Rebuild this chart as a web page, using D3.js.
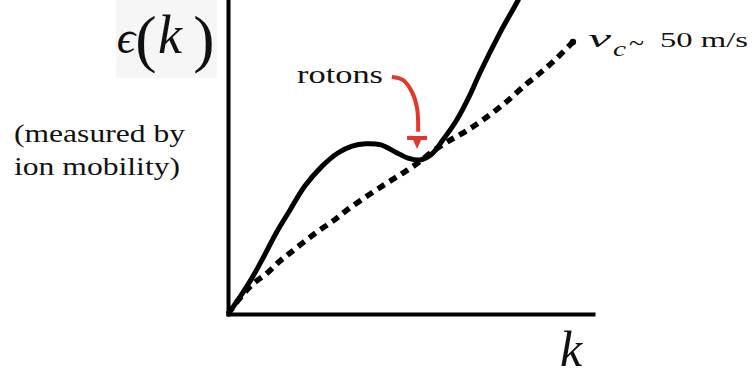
<!DOCTYPE html>
<html>
<head>
<meta charset="utf-8">
<script src="https://cdn.jsdelivr.net/npm/d3@7"></script>
<style>
  html, body { margin: 0; padding: 0; background: #fff; overflow: hidden; }
  text { font-family: "Liberation Serif", Tinos, "Nimbus Roman", "Times New Roman", Times, serif; fill: #111; }
</style>
</head>
<body>
<svg id="chart" width="753" height="370"></svg>
<script>
// Excitation spectrum of superfluid helium (arbitrary units)
const dispersionK = [0, 0.33, 0.66, 0.99, 1.32, 1.70, 2.11, 2.58, 3.01, 3.40, 3.78, 4.19, 4.58, 4.93, 5.26, 5.56, 5.89, 6.27, 6.63, 6.90, 7.45, 7.95, 8.11];
const dispersionE = [0, 0.47, 0.99, 1.59, 2.22, 2.85, 3.51, 4.05, 4.41, 4.60, 4.66, 4.63, 4.44, 4.27, 4.22, 4.36, 4.77, 5.32, 6.00, 6.60, 7.70, 8.60, 8.93];

// Landau critical-velocity line, v_c ~ 50 m/s
const criticalK = [0, 0.33, 0.68, 1.07, 1.42, 1.70, 2.05, 2.44, 2.88, 3.26, 3.81, 4.36, 4.79, 5.21, 5.59, 6.00, 6.49, 6.99, 7.59, 8.14, 8.55, 9.01, 9.45];
const criticalE = [0, 0.44, 0.82, 1.12, 1.45, 1.67, 1.95, 2.25, 2.55, 2.85, 3.23, 3.59, 3.86, 4.14, 4.44, 4.71, 4.99, 5.32, 5.78, 6.27, 6.60, 7.01, 7.45];

// Annotation arrow pointing at the roton minimum
const rotonArrowK = [4.49, 4.79, 5.04, 5.18, 5.21];
const rotonArrowE = [6.49, 6.41, 6.08, 5.64, 4.99];
const rotonTip = [5.18, 4.52];

const kDomain = [0, 10];
const eDomain = [0, 8.6];

const svg = d3.select("#chart");

const x = d3.scaleLinear().domain(kDomain).range([228, 593]);
const y = d3.scaleLinear().domain(eDomain).range([314, 0]);

// faint backdrop behind the ordinate label
svg.append("rect").attr("x", 116).attr("y", 0).attr("width", 101).attr("height", 78)
  .attr("fill", "#f6f6f6");

// axes: bare lines, no ticks
const yAxis = svg.append("g").attr("transform", `translate(${x(0)},0)`)
  .call(d3.axisLeft(y).tickValues([]).tickSizeOuter(0));
const xAxis = svg.append("g").attr("transform", `translate(0,${y(0)})`)
  .call(d3.axisBottom(x).tickValues([]).tickSizeOuter(0));
[yAxis, xAxis].forEach(g => g.select(".domain")
  .attr("stroke", "#000").attr("stroke-width", 4).attr("stroke-linecap", "square"));

const line = d3.line().x(d => x(d[0])).y(d => y(d[1])).curve(d3.curveCatmullRom.alpha(0.5));

const critical = d3.zip(criticalK, criticalE);
svg.append("path").datum(critical).attr("d", line)
  .attr("fill", "none").attr("stroke", "#000").attr("stroke-width", 5.5)
  .attr("stroke-dasharray", "8,6");

// end dot of the dashed line
const last = critical[critical.length - 1];
svg.append("circle").attr("cx", x(last[0])).attr("cy", y(last[1])).attr("r", 3.2).attr("fill", "#000");

const dispersion = d3.zip(dispersionK, dispersionE);
svg.append("path").datum(dispersion).attr("d", line)
  .attr("fill", "none").attr("stroke", "#000").attr("stroke-width", 5)
  .attr("stroke-linejoin", "round");

// roton arrow
const red = "#e2372c";
svg.append("path").datum(d3.zip(rotonArrowK, rotonArrowE)).attr("d", line)
  .attr("fill", "none").attr("stroke", red).attr("stroke-width", 4);
const tx = x(rotonTip[0]), ty = y(rotonTip[1]);
svg.append("path")
  .attr("d", `M${tx - 10},${ty - 13}L${tx + 10},${ty - 13}L${tx + 10},${ty - 9}L${tx + 4},${ty - 9}L${tx},${ty}L${tx - 4},${ty - 9}L${tx - 10},${ty - 9}Z`)
  .attr("fill", red);

// labels
const glyph = (sel, cx, by, size, italic, s) => sel.append("tspan")
  .attr("x", cx).attr("y", by).attr("font-size", size)
  .attr("font-style", italic ? "italic" : "normal").text(s);

const eps = svg.append("text").attr("text-anchor", "middle");
glyph(eps, 126, 53, 46, true, "ϵ");
glyph(eps, 146, 60, 64, false, "(");
glyph(eps, 170, 53, 54, true, "k");
glyph(eps, 204, 60, 64, false, ")");

svg.append("text").attr("text-anchor", "middle").attr("x", 571).attr("y", 366)
  .attr("font-size", 50).attr("font-style", "italic").text("k");

svg.append("text").attr("x", 14).attr("y", 142).attr("font-size", 25)
  .attr("textLength", 171).attr("lengthAdjust", "spacingAndGlyphs").text("(measured by");
svg.append("text").attr("x", 14).attr("y", 175).attr("font-size", 25)
  .attr("textLength", 166).attr("lengthAdjust", "spacingAndGlyphs").text("ion mobility)");

svg.append("text").attr("x", 297).attr("y", 83).attr("font-size", 25)
  .attr("textLength", 86).attr("lengthAdjust", "spacingAndGlyphs").text("rotons");

const vc = svg.append("text");
vc.append("tspan").attr("x", 588).attr("y", 47).attr("font-size", 26).attr("font-style", "italic")
  .attr("textLength", 23).attr("lengthAdjust", "spacingAndGlyphs").text("v");
vc.append("tspan").attr("x", 613).attr("y", 56).attr("font-size", 21).attr("font-style", "italic")
  .attr("textLength", 13).attr("lengthAdjust", "spacingAndGlyphs").text("c");
vc.append("tspan").attr("x", 629).attr("y", 52).attr("font-size", 28)
  .attr("textLength", 15).attr("lengthAdjust", "spacingAndGlyphs").text("~");
vc.append("tspan").attr("x", 660).attr("y", 47).attr("font-size", 21)
  .attr("textLength", 88).attr("lengthAdjust", "spacingAndGlyphs").text("50 m/s");
</script>
</body>
</html>
